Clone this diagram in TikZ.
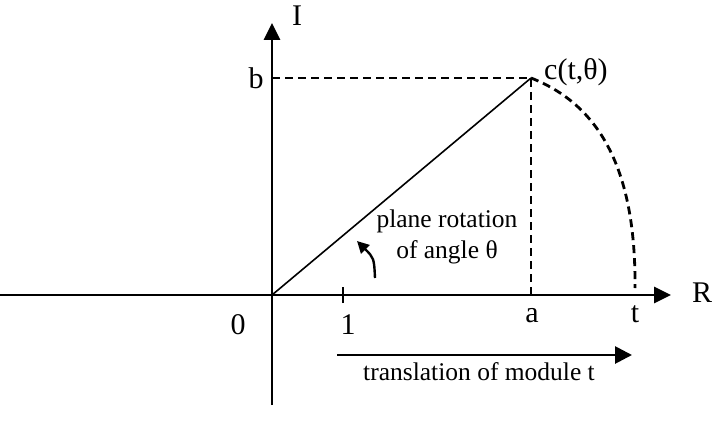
\documentclass[tikz,border=0pt]{standalone}
\usepackage{fontspec}
\setmainfont{Liberation Serif}
\usetikzlibrary{arrows.meta}

\tikzset{
  axis/.style={line width=2.8pt, -{Triangle[length=17pt,width=16pt]}},
  guide/.style={line width=2.8pt, dash pattern=on 8pt off 5pt},
  lbl/.style={font=\fontsize{25.5}{30}\selectfont, inner sep=0pt},
  big/.style={font=\fontsize{30}{36}\selectfont, inner sep=0pt},
}

\begin{document}
\begin{tikzpicture}[x=1pt, y=-1pt]
  \useasboundingbox (0,0) rectangle (712,436);

  % points of the plane
  \coordinate (O) at (272,295);
  \coordinate (c) at (531,78);
  \coordinate (b) at (272,78);
  \coordinate (a) at (531,295);
  \coordinate (t) at (635,288);
  \coordinate (one) at (343,295);

  % axes
  \coordinate (west) at (0,295);
  \coordinate (east) at (671,295);
  \coordinate (south) at (272,405);
  \coordinate (north) at (272,23);
  \draw[axis] (west) -- (east);
  \draw[axis] (south) -- (north);
  \draw[line width=2pt] ([yshift=-8pt]one) -- ([yshift=8pt]one);

  % complex number and its projections
  \draw[line width=1.6pt] (O) -- (c);
  \draw[guide] (b) -- (c) -- (a);
  \draw[guide] (c) .. controls (600,105) and (636,170) .. (t);

  % rotation and translation arrows
  \coordinate (rottail) at (375,278);
  \coordinate (rottip) at (357,241);
  \draw[line width=2.4pt, -{Triangle[length=12pt,width=12pt]}]
    (rottail) .. controls (374,258) .. (rottip);
  \coordinate (trstart) at (337,355);
  \coordinate (trend) at (632,355);
  \draw[line width=2.8pt, -{Triangle[length=17pt,width=17pt]}] (trstart) -- (trend);

  % labels
  \node[big] (Rlbl) at (702,293) {R};
  \node[big] (Ilbl) at (297,16) {I};
  \node[big] (blbl) at (256,78) {b};
  \node[big, anchor=west] (clbl) at (544,72) {c(t,θ)};
  \node[big] (zerolbl) at (238,325) {0};
  \node[big] (onelbl) at (348,325) {1};
  \node[big] (albl) at (532,316) {a};
  \node[big] (tlbl) at (635,314) {t};
  \node[lbl, anchor=base] (rot1) at (447,227) {plane rotation};
  \node[lbl, anchor=base] (rot2) at (447,258) {of angle θ};
  \node[lbl, anchor=base] (trlbl) at (479,380) {translation of module t};
\end{tikzpicture}
\end{document}
